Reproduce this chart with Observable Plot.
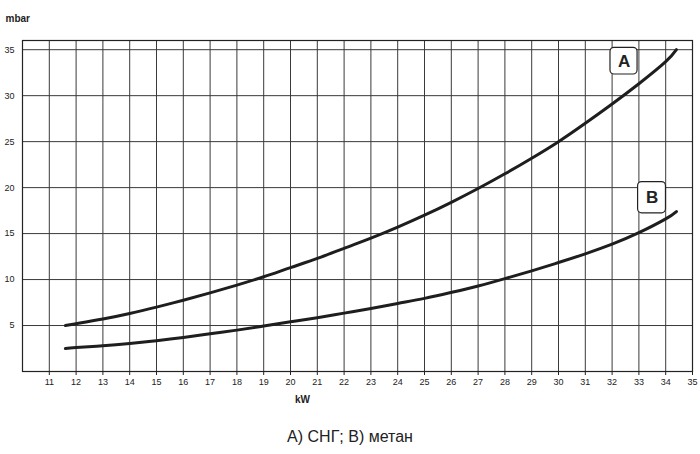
<!DOCTYPE html>
<html>
<head>
<meta charset="utf-8">
<script src="https://cdn.jsdelivr.net/npm/d3@7"></script>
<script src="https://cdn.jsdelivr.net/npm/@observablehq/plot@0.6"></script>
<style>
  html, body { margin: 0; padding: 0; background: #fff; }
  #wrap { width: 700px; }
  #caption { text-align: center; font-family: "Liberation Sans Narrow", "Arial Narrow", "Liberation Sans", Arial, sans-serif; font-size: 16px; color: #222; margin-top: 13px; }
</style>
</head>
<body>
<div id="wrap"></div>
<script>
// Curve A (СНГ)
const kwA = [11.6, 12, 13, 14, 15, 16, 17, 18, 19, 20, 21, 22, 23, 24, 25, 26, 27, 28, 29, 30, 31, 32, 33, 34, 34.4];
const mbarA = [5.0, 5.2, 5.7, 6.3, 7.0, 7.75, 8.55, 9.4, 10.3, 11.3, 12.3, 13.4, 14.5, 15.7, 17.0, 18.4, 19.9, 21.5, 23.2, 25.0, 27.0, 29.1, 31.3, 33.7, 35.0];
// Curve B (метан)
const kwB = [11.6, 12, 13, 14, 15, 16, 17, 18, 19, 20, 21, 22, 23, 24, 25, 26, 27, 28, 29, 30, 31, 32, 33, 34, 34.4];
const mbarB = [2.5, 2.6, 2.8, 3.05, 3.35, 3.7, 4.1, 4.5, 4.95, 5.4, 5.85, 6.35, 6.85, 7.4, 7.95, 8.6, 9.3, 10.1, 10.95, 11.85, 12.8, 13.85, 15.1, 16.6, 17.4];
const xTicks = [11, 12, 13, 14, 15, 16, 17, 18, 19, 20, 21, 22, 23, 24, 25, 26, 27, 28, 29, 30, 31, 32, 33, 34, 35];
const xGrid = [10, 11, 12, 13, 14, 15, 16, 17, 18, 19, 20, 21, 22, 23, 24, 25, 26, 27, 28, 29, 30, 31, 32, 33, 34, 35];
const yTicks = [5, 10, 15, 20, 25, 30, 35];
const labelNames = ["A", "B"];
const labelX1 = [31.94, 32.97];
const labelX2 = [32.95, 34.01];
const labelY1 = [32.3, 17.2];
const labelY2 = [35.2, 20.6];
const captionText = "A) СНГ; B) метан";

const seriesA = kwA.map((x, i) => ({x, y: mbarA[i]}));
const seriesB = kwB.map((x, i) => ({x, y: mbarB[i]}));
const labels = labelNames.map((n, i) => ({n, x1: labelX1[i], x2: labelX2[i], y1: labelY1[i], y2: labelY2[i]}));

const font = '"Liberation Sans Narrow", "Arial Narrow", "Liberation Sans", Arial, sans-serif';

const chart = Plot.plot({
  width: 700,
  height: 415,
  marginLeft: 22,
  marginRight: 8,
  marginTop: 40,
  marginBottom: 44,
  style: {fontFamily: font, fontSize: "9px", color: "#222", background: "#fff"},
  x: {domain: [10, 35]},
  y: {domain: [0, 36]},
  marks: [
    Plot.ruleX(xGrid, {stroke: "#3a3a3a", strokeWidth: 1, strokeOpacity: 1}),
    Plot.ruleY(yTicks, {stroke: "#3a3a3a", strokeWidth: 1, strokeOpacity: 1}),
    Plot.frame({stroke: "#222", strokeWidth: 1.2}),
    Plot.axisX(xTicks, {tickSize: 4, tickPadding: 3, label: null, fontSize: 9, stroke: "#222"}),
    Plot.axisY(yTicks, {tickSize: 0, tickPadding: 8, label: null, fontSize: 9}),
    Plot.line(seriesA, {x: "x", y: "y", curve: "natural", stroke: "#1e1e1e", strokeWidth: 3}),
    Plot.line(seriesB, {x: "x", y: "y", curve: "natural", stroke: "#1e1e1e", strokeWidth: 3}),
    Plot.rect(labels, {x1: "x1", x2: "x2", y1: "y1", y2: "y2", fill: "#fff", stroke: "#222", strokeWidth: 1.2, rx: 4}),
    Plot.text(labels, {x: d => (d.x1 + d.x2) / 2, y: d => (d.y1 + d.y2) / 2, text: "n", fontSize: 17, fontWeight: "bold", fontFamily: "Liberation Sans, Arial, sans-serif", fill: "#222"}),
    Plot.text(["kW"], {x: [20.45], frameAnchor: "bottom", dy: 31, text: d => d, fontSize: 10, fontWeight: "bold", fontFamily: "Liberation Sans, Arial, sans-serif", fill: "#222"}),
    Plot.text(["mbar"], {frameAnchor: "top-left", dx: -17, dy: -26, textAnchor: "start", text: d => d, fontSize: 10, fontWeight: "bold", fontFamily: "Liberation Sans, Arial, sans-serif", fill: "#222"})
  ]
});
document.getElementById("wrap").appendChild(chart);
const cap = document.createElement("div");
cap.id = "caption";
cap.textContent = captionText;
document.getElementById("wrap").appendChild(cap);
</script>
</body>
</html>
